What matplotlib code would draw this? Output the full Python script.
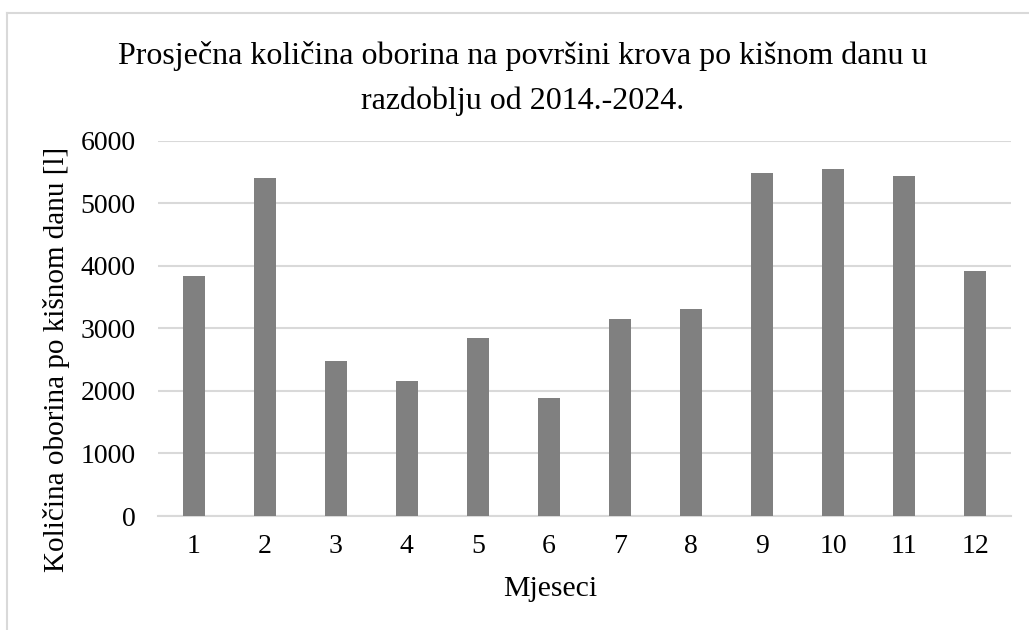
import matplotlib.pyplot as plt
from matplotlib.lines import Line2D

months = [1, 2, 3, 4, 5, 6, 7, 8, 9, 10, 11, 12]
values = [3836, 5408, 2483, 2158, 2840, 1886, 3154, 3308, 5487, 5546, 5440, 3916]
month_labels = [str(m) for m in months]
title_lines = ['Prosječna količina oborina na površini krova po kišnom danu u',
               'razdoblju od 2014.-2024.']

plt.rcParams['font.family'] = ['Liberation Serif', 'DejaVu Serif']

W, H = 1029, 630
fig = plt.figure(figsize=(W / 100, H / 100), dpi=100)
ax = fig.add_axes([158 / W, 1 - 516 / H, (1011 - 158) / W, (516 - 140.7) / H])

ax.bar(months, values, width=0.31, color='#808080', zorder=3)
ax.set_xlim(0.5, 12.5)
ax.set_ylim(0, 6000)
ax.set_yticks(range(0, 6001, 1000))
ax.set_xticks(months)
ax.set_xticklabels(month_labels)
ax.grid(axis='y', color='#d9d9d9', linewidth=1.5, zorder=0)
for s in ['top', 'right', 'left']:
    ax.spines[s].set_visible(False)
ax.spines['bottom'].set_color('#d9d9d9')
ax.spines['bottom'].set_linewidth(1.5)
ax.tick_params(axis='both', length=0, labelsize=20, colors='black')
ax.tick_params(axis='y', pad=16)
ax.tick_params(axis='x', pad=13)

# axis titles
fig.text(550 / W, 1 - 596 / H, 'Mjeseci', ha='center', va='baseline', fontsize=21.4)
fig.text(57 / W, 1 - 359.5 / H, 'Količina oborina po kišnom danu [l]', rotation=90,
         ha='center', va='center', fontsize=21)

# chart title, two lines
fig.text(523 / W, 1 - 64 / H, title_lines[0], ha='center', va='baseline', fontsize=23)
fig.text(523 / W, 1 - 109 / H, title_lines[1], ha='center', va='baseline', fontsize=23)

# chart frame (cropped on right and bottom)
fig.add_artist(Line2D([7 / W, 7 / W], [0, 1 - 13 / H], color='#d9d9d9', lw=1.5,
                      transform=fig.transFigure))
fig.add_artist(Line2D([7 / W, 1], [1 - 13 / H, 1 - 13 / H], color='#d9d9d9', lw=1.5,
                      transform=fig.transFigure))

fig.savefig('out.png', dpi=100)
